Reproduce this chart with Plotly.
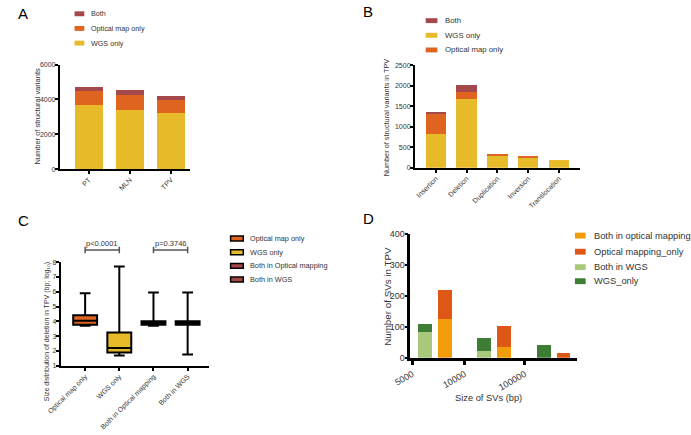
import plotly.graph_objects as go
import numpy as np

W, H = 691, 435
def fx(p): return p / W
def fy(p): return 1 - p / H

# ---------------- data ----------------
# Panel A
a_cats = ["PT", "MLN", "TPV"]
a_wgs = [3700, 3420, 3210]
a_om = [770, 860, 770]
a_both = [240, 240, 210]
a_ticks = [0, 2000, 4000, 6000]

# Panel B
b_cats = ["Insertion", "Deletion", "Duplication", "Inversion", "Translocation"]
b_wgs = [833, 1667, 278, 238, 190]
b_om = [477, 183, 65, 40, 0]
b_both = [57, 166, 0, 0, 0]
b_ticks = [0, 500, 1000, 1500, 2000, 2500]

# Panel C
c_cats = ["Optical map only", "WGS only", "Both in Optical mapping", "Both in WGS"]
c_min = [3.71, 1.70, 3.71, 1.77]
c_q1 = [3.77, 1.90, 3.77, 3.77]
c_med = [4.04, 2.21, 3.88, 3.88]
c_q3 = [4.41, 3.25, 4.02, 4.02]
c_max = [5.91, 7.71, 5.95, 5.95]
c_pvals = ["p<0.0001", "p=0.3746"]
c_ticks = [1, 2, 3, 4, 5, 6, 7, 8]

# Panel D
d_bin_index = [0, 1, 2]
d_both_wgs = [84, 23, 0]
d_wgs_only = [24, 41, 40]
d_both_om = [126, 34, 0]
d_om_only = [92, 69, 15]
d_ticklabels = ["5000", "10000", "100000"]
d_ticks = [0, 100, 200, 300, 400]

# ---------------- styles ----------------
COL_WGS = "#E7BA29"
COL_OM = "#DE6420"
COL_BOTH = "#A5484C"
COL_D_BOTH_OM = "#F39C0B"
COL_D_OM = "#DF5716"
COL_D_BOTH_WGS = "#A9C87C"
COL_D_WGS = "#3D7D35"
FONT = "Liberation Sans, Arial, sans-serif"
TXT = "#333333"

fig = go.Figure()

# Panel A bars
for name, vals, col in [("WGS only", a_wgs, COL_WGS), ("Optical map only", a_om, COL_OM), ("Both", a_both, COL_BOTH)]:
    fig.add_trace(go.Bar(x=a_cats, y=vals, name=name, marker=dict(color=col, line=dict(width=0)),
                         width=0.67, xaxis="x", yaxis="y", showlegend=False))

# Panel B bars
for name, vals, col in [("WGS only", b_wgs, COL_WGS), ("Optical map only", b_om, COL_OM), ("Both", b_both, COL_BOTH)]:
    fig.add_trace(go.Bar(x=b_cats, y=vals, name=name, marker=dict(color=col, line=dict(width=0)),
                         width=0.67, xaxis="x2", yaxis="y2", showlegend=False))

# Panel C boxes
c_fill = [COL_OM, COL_WGS, COL_BOTH, COL_BOTH]
for i, cat in enumerate(c_cats):
    fig.add_trace(go.Box(x=[cat], q1=[c_q1[i]], median=[c_med[i]], q3=[c_q3[i]],
                         lowerfence=[c_min[i]], upperfence=[c_max[i]], name=cat,
                         fillcolor=c_fill[i], line=dict(color="black", width=2),
                         width=0.7, whiskerwidth=0.45, boxpoints=False,
                         xaxis="x3", yaxis="y3", showlegend=False))

# Panel D bars (two stacked groups per size bin)
bins = np.array(d_bin_index, dtype=float)
half = 0.167
for name, vals, col, xs in [("Both in WGS", d_both_wgs, COL_D_BOTH_WGS, bins - half),
                            ("WGS_only", d_wgs_only, COL_D_WGS, bins - half),
                            ("Both in optical mapping", d_both_om, COL_D_BOTH_OM, bins + half),
                            ("Optical mapping_only", d_om_only, COL_D_OM, bins + half)]:
    fig.add_trace(go.Bar(x=xs, y=vals, name=name, marker=dict(color=col, line=dict(width=0)),
                         width=0.23, xaxis="x4", yaxis="y4", showlegend=False))


def axis(domain, anchor, fs=7, **kw):
    d = dict(domain=domain, anchor=anchor, showline=True, linecolor="black", linewidth=2,
             ticks="outside", ticklen=3, tickwidth=1.5, tickcolor="black",
             tickfont=dict(size=fs, color=TXT, family=FONT), showgrid=False, zeroline=False,
             fixedrange=True)
    d.update(kw)
    return d

layout = dict(
    width=W, height=H, autosize=False, margin=dict(l=0, r=0, t=0, b=0),
    paper_bgcolor="white", plot_bgcolor="white", barmode="stack", boxmode="overlay",
    font=dict(family=FONT, color=TXT, size=8), showlegend=False,
    xaxis=axis([fx(44), fx(177)], "y", type="category", range=[-0.7, 2.45], tickangle=-45,
               ticklabelstandoff=-1),
    yaxis=axis([fy(168), fy(61)], "x", range=[0, 6000], tickvals=a_ticks, ticklabelstandoff=-2),
    xaxis2=axis([fx(408), fx(577)], "y2", type="category", range=[-0.68, 4.68], tickangle=-45,
                ticklabelstandoff=-1),
    yaxis2=axis([fy(166.7), fy(61.7)], "x2", range=[0, 2500], tickvals=b_ticks, ticklabelstandoff=-2),
    xaxis3=axis([fx(45), fx(197)], "y3", type="category", range=[-0.71, 3.63], tickangle=-45,
                ticklabelstandoff=-1),
    yaxis3=axis([fy(369.3), fy(263.3)], "x3", range=[1, 8], tickvals=c_ticks, ticklabelstandoff=-2),
    xaxis4=axis([fx(403.3), fx(574)], "y4", fs=9, range=[-0.41, 2.39],
                tickvals=[-0.377, 0.503, 1.513], ticktext=d_ticklabels, tickangle=-30,
                ticklen=5, tickwidth=3, linewidth=2.5),
    yaxis4=axis([fy(361), fy(234.3)], "x4", fs=9, range=[0, 400], tickvals=d_ticks, linewidth=2.5,
                ticklabelstandoff=-2),
)
fig.update_layout(**layout)

ann = []
shapes = []

def text(x, y, s, size, angle=0, anchor="center", color=TXT):
    ann.append(dict(x=fx(x), y=fy(y), xref="paper", yref="paper", text=s, showarrow=False,
                    textangle=angle, xanchor=anchor, yanchor="middle",
                    font=dict(size=size, color=color, family=FONT)))

# Panel letters
text(6.5, 8.5, "A", 15, color="black")
text(359.5, 7, "B", 15, color="black")
text(6.5, 221, "C", 15, color="black")
text(360.5, 219, "D", 15, color="black")

# Axis titles
text(20.7, 114, "Number of structural variants", 7.5, angle=-90)
text(378.3, 115, "Number of structural variants in TPV", 7.3, angle=-90)
text(30.7, 334, "Size distribution of deletion in TPV (bp; log\u2081\u2080)", 7, angle=-90)
text(379, 298, "Number of SVs in TPV", 9.8, angle=-90)
text(483.3, 402.7, "Size of SVs (bp)", 9.3)

# Legends (manual, compact like the original)
def legend(rows, x0, x1, tx, h, fs, border=None):
    for (name, col), y in rows:
        shapes.append(dict(type="rect", xref="paper", yref="paper", x0=fx(x0), x1=fx(x1),
                           y0=fy(y + h / 2), y1=fy(y - h / 2), fillcolor=col,
                           line=dict(color=border if border else col, width=1.5 if border else 0)))
        text(tx, y, name, fs, anchor="left")

legend(list(zip([("Both", COL_BOTH), ("Optical map only", COL_OM), ("WGS only", COL_WGS)], [9, 24, 39])),
       59, 69, 74, 5, 7.2)
legend(list(zip([("Both", COL_BOTH), ("WGS only", COL_WGS), ("Optical map only", COL_OM)], [16, 31, 46])),
       419, 431, 437, 5, 7.8)
legend(list(zip(list(zip(c_cats, c_fill)), [239, 253, 267, 281])), 219, 232, 237, 5, 7.3, border="black")
legend(list(zip([("Both in optical mapping", COL_D_BOTH_OM), ("Optical mapping_only", COL_D_OM),
                 ("Both in WGS", COL_D_BOTH_WGS), ("WGS_only", COL_D_WGS)], [236, 252.5, 268.3, 282.7])),
       572, 583, 590, 6, 9.3)

# p-value brackets in panel C
for i, p in enumerate(c_pvals):
    a, b = 2 * i, 2 * i + 1
    shapes.append(dict(type="line", xref="x3", yref="paper", x0=a, x1=b, y0=fy(250.7), y1=fy(250.7),
                       line=dict(color="#555555", width=1.5)))
    for xx in (a, b):
        shapes.append(dict(type="line", xref="x3", yref="paper", x0=xx, x1=xx, y0=fy(247.5), y1=fy(254),
                           line=dict(color="#555555", width=1.5)))
    ann.append(dict(x=(a + b) / 2, y=fy(244.5), xref="x3", yref="paper", text=p, showarrow=False,
                    xanchor="center", yanchor="middle", font=dict(size=7.5, color=TXT, family=FONT)))

fig.update_layout(annotations=ann, shapes=shapes)
# remove the default page margin so the 691x435 figure fills the window exactly
fig.write_html("out.html", config={"displayModeBar": False},
               post_script="document.body.style.margin='0';")
